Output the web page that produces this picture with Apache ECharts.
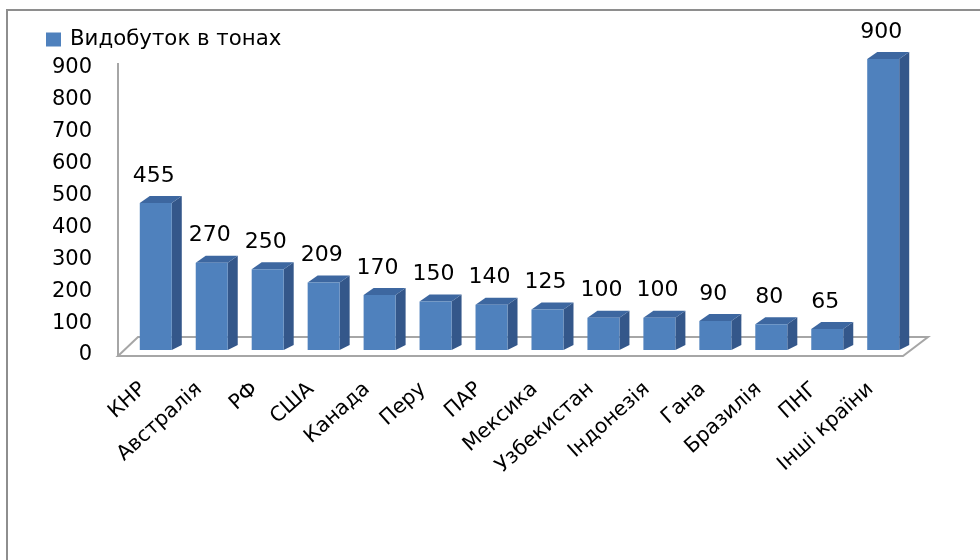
<!DOCTYPE html>
<html>
<head>
<meta charset="utf-8">
<script src="https://cdn.jsdelivr.net/npm/echarts@6/dist/echarts.min.js"></script>
<style>
html,body{margin:0;padding:0;background:#fff;}
#main{width:980px;height:560px;}
</style>
</head>
<body>
<div id="main"></div>
<script>
var categories = ['КНР','Австралія','РФ','США','Канада','Перу','ПАР','Мексика','Узбекистан','Індонезія','Гана','Бразилія','ПНГ','Інші країни'];
var values = [455,270,250,209,170,150,140,125,100,100,90,80,65,900];
var seriesName = 'Видобуток в тонах';
var yTicks = [0,100,200,300,400,500,600,700,800,900];

var FONT = 'DejaVu Sans';
var chart = echarts.init(document.getElementById('main'));

var FRONT = '#4f81bd', TOP = '#3d67a0', SIDE = '#34578a';
var DX = 10, DY = 7, BW = 32;

function renderBar(params, api) {
  var cat = api.value(0);
  var v = api.value(1);
  var p = api.coord([cat, v]);
  var b = api.coord([cat, 0]);
  var left = p[0] - BW / 2, top = p[1], base = b[1];
  return {
    type: 'group',
    children: [
      {type: 'polygon', shape: {points: [[left + BW, top], [left + BW + DX, top - DY], [left + BW + DX, base - DY + 2], [left + BW, base]]}, style: {fill: SIDE}},
      {type: 'polygon', shape: {points: [[left, top], [left + BW, top], [left + BW + DX, top - DY], [left + DX, top - DY]]}, style: {fill: TOP}},
      {type: 'rect', shape: {x: left, y: top, width: BW, height: base - top}, style: {fill: FRONT}},
      {type: 'text', style: {text: String(v), x: p[0] - 2, y: top - 27, textAlign: 'center', textVerticalAlign: 'middle', fill: '#000', font: '22px "' + FONT + '"'}}
    ]
  };
}

var option = {
  animation: false,
  backgroundColor: '#fff',
  textStyle: {fontFamily: FONT},
  legend: {
    show: true,
    left: 46, top: 29, padding: 0,
    itemWidth: 15, itemHeight: 14,
    icon: 'rect',
    data: [{name: seriesName, itemStyle: {color: FRONT}}],
    textStyle: {fontSize: 21.3, color: '#000', fontFamily: FONT, padding: [0, 0, 0, 4]}
  },
  graphic: [
    {type: 'polyline', z: 0, shape: {points: [[7, 560], [7, 10], [980, 10]]}, style: {stroke: '#8e8e8e', lineWidth: 2, fill: null}},
    {type: 'polygon', z: 0, shape: {points: [[118, 356], [903, 356], [928, 337], [138, 337]]}, style: {stroke: '#a6a6a6', lineWidth: 2, fill: '#fff'}},
    {type: 'line', z: 0, shape: {x1: 118, y1: 63, x2: 118, y2: 356}, style: {stroke: '#a6a6a6', lineWidth: 2}}
  ],
  grid: [
    {left: 118, top: 68, width: 1, height: 287},
    {left: 127.8, top: 59, width: 783.4, height: 291}
  ],
  xAxis: [
    {gridIndex: 0, type: 'value', show: false},
    {gridIndex: 1, type: 'category', data: categories,
     axisLine: {show: false}, axisTick: {show: false},
     axisLabel: {rotate: 42, interval: 0, margin: 25, fontSize: 20.5, color: '#000', fontFamily: FONT, padding: [0, 17, 0, 0]}}
  ],
  yAxis: [
    {gridIndex: 0, type: 'value', min: 0, max: 900, interval: 100,
     axisLine: {show: false}, axisTick: {show: false}, splitLine: {show: false},
     axisLabel: {margin: 26, fontSize: 21, color: '#000', fontFamily: FONT,
       customValues: yTicks}},
    {gridIndex: 1, type: 'value', min: 0, max: 900, show: false, splitLine: {show: false}}
  ],
  series: [{
    name: seriesName,
    type: 'custom',
    xAxisIndex: 1, yAxisIndex: 1,
    renderItem: renderBar,
    encode: {x: 0, y: 1},
    itemStyle: {color: FRONT},
    data: values.map(function (v, i) { return [i, v]; }),
    z: 5
  }]
};
chart.setOption(option);
</script>
</body>
</html>
